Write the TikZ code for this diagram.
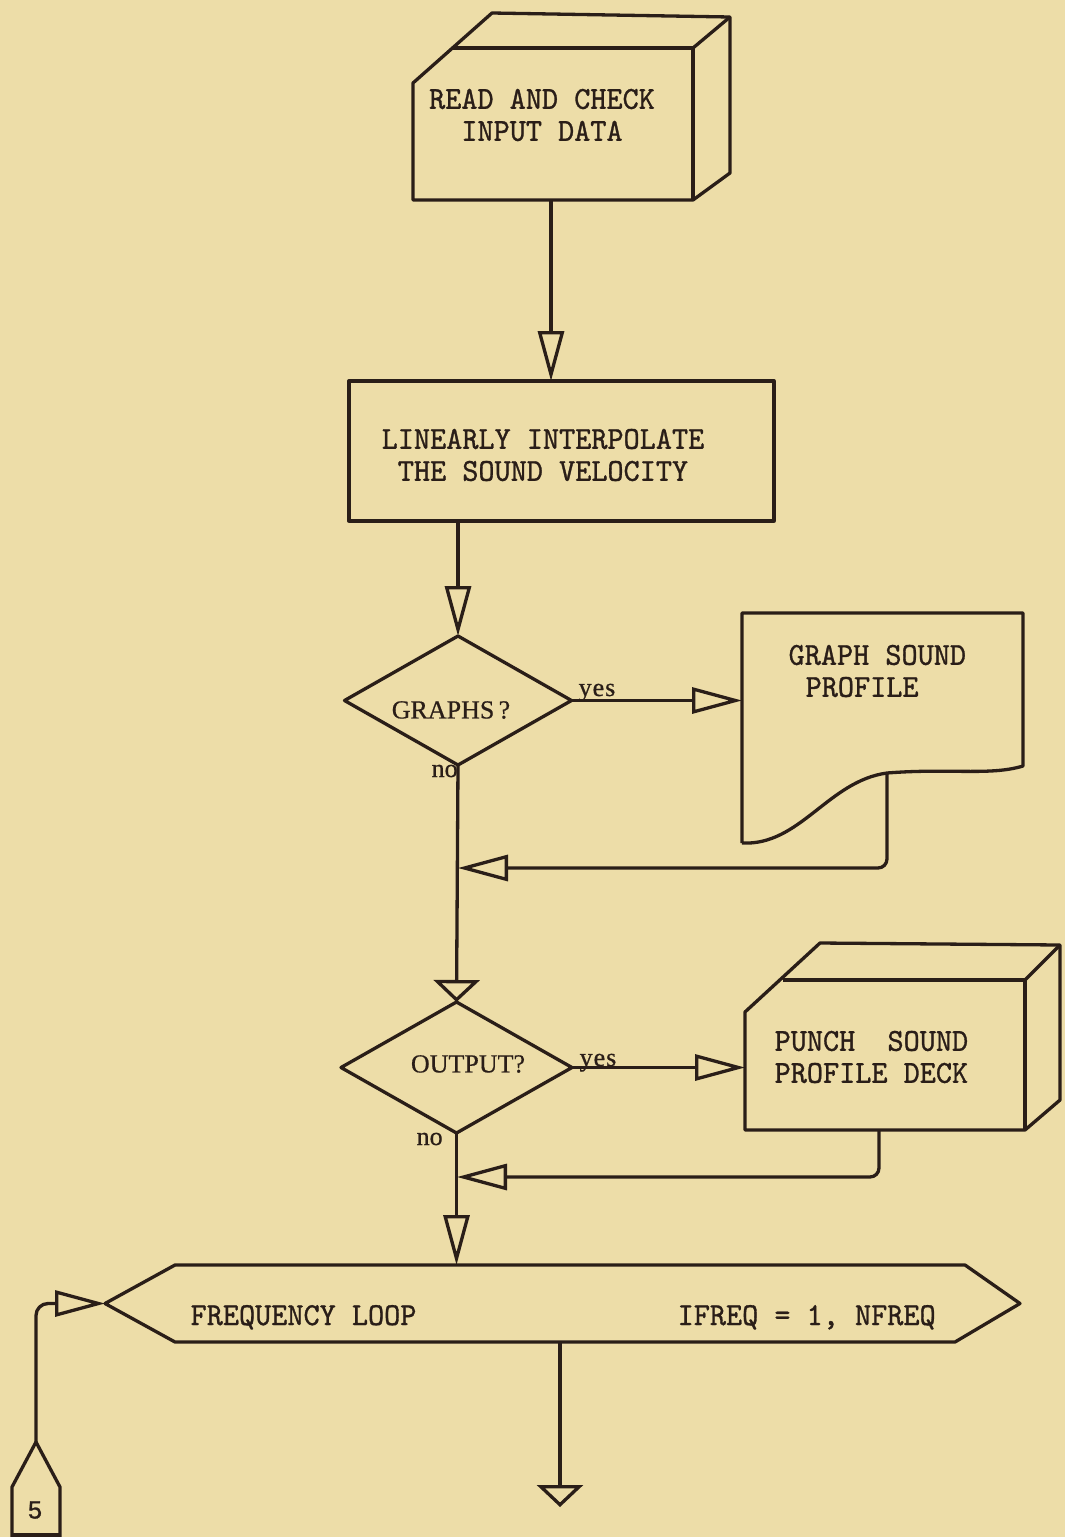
\documentclass[tikz,border=0pt]{standalone}
\usepackage{fontspec}
\usetikzlibrary{arrows.meta,shapes.geometric,calc}
\setmainfont{Liberation Serif}[FakeBold=0.6]
\newfontfamily\typer{lmmono10-regular.otf}[FakeStretch=0.96,FakeBold=1.0]
\newfontfamily\digitfont{Liberation Sans}[FakeBold=1.2]
\definecolor{paper}{RGB}{237,221,168}
\definecolor{ink}{RGB}{42,30,24}

\begin{document}
\begin{tikzpicture}[x=1pt,y=-1pt,color=ink,line width=3.3pt,line join=round,
  tw/.style={font=\typer\fontsize{32}{32}\selectfont,inner sep=0pt},
  lbl/.style={font=\fontsize{26}{28}\selectfont,inner sep=0pt},
  frame/.style={inner sep=0pt,outer sep=0pt},
  longtip/.style={-{Triangle[open,length=50pt,width=26pt]}},
  flattip/.style={-{Triangle[open,length=22pt,width=46pt]}},
  decision/.style={diamond,draw,inner sep=0pt,outer sep=0pt}]
\fill[paper] (0,0) rectangle (1065,1537);
\useasboundingbox (0,0) rectangle (1065,1537);

% --- read and check input data (box seen in perspective)
\node[frame,minimum width=280pt,minimum height=152pt] (read) at (553,124) {};
\draw (read.south west) -- ($(read.north west)+(0,35)$) -- ++(79,-70)
      -- (730,17) -- (730,173) -- (read.south east) -- cycle;
\draw ($(read.north west)+(40,0)$) -- (read.north east) -- (read.south east);
\draw (read.north east) -- (730,17);
\node[tw,align=center] (readtxt) at (542,115) {READ AND CHECK\\INPUT DATA};

% --- linear interpolation
\node[frame,draw,minimum width=425pt,minimum height=140pt] (lin) at (561.5,451) {};
\node[tw,align=center] (lintxt) at (543,455) {LINEARLY INTERPOLATE\\THE SOUND VELOCITY};

% --- graphs decision
\node[decision,minimum width=227pt,minimum height=129pt,aspect=1.76] (g) at (458,700.5) {};
\node[lbl] (gtxt) at (451,710) {GRAPHS\,?};
\node[lbl,anchor=base west] (gyes) at (577,696) {y\kern1pt e\kern1pt s};
\node[lbl,anchor=base west] (gno) at (430,777) {no};

% --- graph sound profile (document)
\node[frame,minimum width=281pt,minimum height=230pt] (doc) at (882.5,728) {};
\draw (doc.south west) -- (doc.north west) -- (doc.north east) -- (1023,766)
      .. controls (990,776) and (950,768) .. (887,773)
      .. controls (828,781) and (800,846) .. (doc.south west);
\coordinate (docout) at (887,773);
\node[tw,align=left,anchor=west] (doctxt) at (787,671) {GRAPH SOUND\\\hspace*{17pt}PROFILE};

% --- output decision
\node[decision,minimum width=231pt,minimum height=131pt,aspect=1.76] (o) at (456.5,1067.5) {};
\node[lbl] (otxt) at (468,1064) {OUTPUT?};
\node[lbl,anchor=base west] (oyes) at (578,1066) {y\kern1pt e\kern1pt s};
\node[lbl,anchor=base west] (ono) at (415,1145) {no};

% --- punch sound profile deck (box seen in perspective)
\node[frame,minimum width=280pt,minimum height=150pt] (punch) at (885,1055) {};
\draw (punch.south west) -- ($(punch.north west)+(0,32)$) -- ++(75,-69)
      -- (1060,945) -- (1060,1100) -- (punch.south east) -- cycle;
\draw ($(punch.north west)+(38,0)$) -- (punch.north east) -- (punch.south east);
\draw (punch.north east) -- (1060,945);
\coordinate (punchout) at (879,1130);
\node[tw,align=left,anchor=west] (punchtxt) at (773,1057) {PUNCH\ \ SOUND\\PROFILE DECK};

% --- frequency loop
\node[frame,minimum width=915pt,minimum height=77pt] (loop) at (562.5,1303.5) {};
\draw (loop.west) -- (175,1265) -- (965,1265) -- (loop.east) -- (955,1342)
      -- (175,1342) -- cycle;
\node[tw,anchor=base west] (looptxt) at (189,1325) {FREQUENCY LOOP};
\node[tw,anchor=base west] (looprange) at (676,1325) {IFREQ = 1, NFREQ};
\coordinate (exitend) at (560,1507);

% --- connector 5
\node[frame,minimum width=48pt,minimum height=93pt] (c5) at (36,1488.5) {};
\draw (12,1537) -- (12,1487) -- (c5.north) -- (60,1487) -- (60,1537);
\draw (12,1535) -- (60,1535);
\node[font=\digitfont\fontsize{25}{25}\selectfont,inner sep=0pt] (c5txt) at (35,1510) {5};

% --- junction points on the main line
\coordinate (join1) at (458,868);
\coordinate (join2) at (457,1177);

% --- connectors
\draw[longtip] (551,0 |- read.south) -- (551,0 |- lin.north);
\draw[longtip] (g.north |- lin.south) -- (g.north);
\draw[longtip] (g.east) -- (doc.west |- g.east);
\draw[longtip,rounded corners=9pt] (docout) |- (join1);
\draw[flattip] (g.south) -- (o.north);
\draw[longtip] (o.east) -- (punch.west |- o.east);
\draw[longtip,rounded corners=9pt] (punchout) |- (join2);
\draw[longtip] (o.south) -- (o.south |- loop.north);
\draw[flattip] (560,0 |- loop.south) -- (exitend);
\draw[longtip,rounded corners=12pt] (c5.north) |- (loop.west);
\end{tikzpicture}
\end{document}
